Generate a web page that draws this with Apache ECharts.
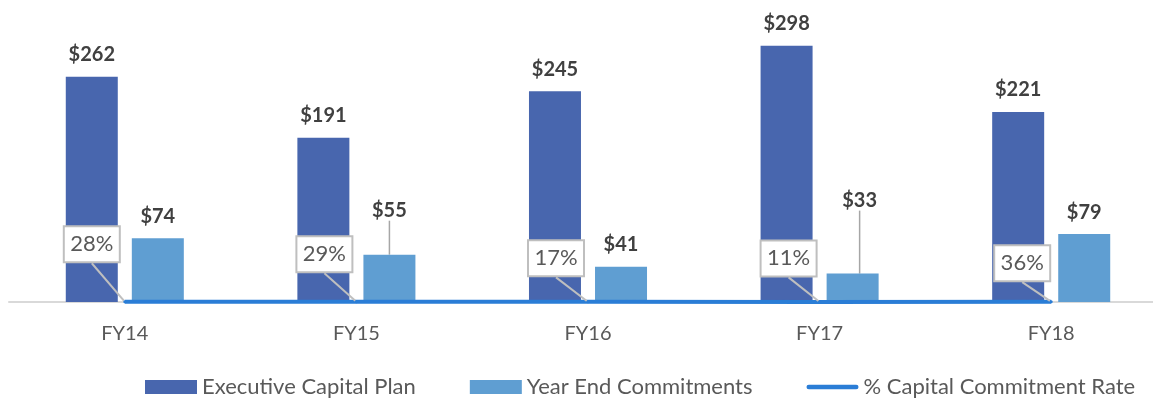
<!DOCTYPE html>
<html>
<head>
<meta charset="utf-8">
<script src="https://cdn.jsdelivr.net/npm/echarts@6/dist/echarts.min.js"></script>
<style>
  html, body { margin: 0; padding: 0; background: #fff; }
  #chart { width: 1153px; height: 400px; }
</style>
</head>
<body>
<div id="chart"></div>
<script>
// capital plan vs commitments
const categories = ['FY14', 'FY15', 'FY16', 'FY17', 'FY18'];
const capitalPlan = [262, 191, 245, 298, 221];
const yearEndCommitments = [74, 55, 41, 33, 79];
const commitmentRate = [0.28, 0.29, 0.17, 0.11, 0.36];

// label nudges (px) so the callouts sit like the original
const rateLabelShift = [[-33, -34], [-32, -24], [-32, -20], [-31, -20], [-29, -15]];
const commitLabelShift = [[0, 0], [0, -22], [0, 0], [7, -51], [0, 0]];

const chartDom = document.getElementById('chart'),
    capitalChart = echarts.init(chartDom);

const fontFamily = 'Lato, sans-serif';

// only moved labels get a leader line
const commitData = yearEndCommitments.map(function (v, i) {
    const moved = commitLabelShift[i][0] !== 0 || commitLabelShift[i][1] !== 0;
    return { value: v, labelLine: { show: moved } };
});

let option = {
    animation: false,
    textStyle: { fontFamily: fontFamily },
    legend: {
        left: 140,
        top: 371,
        itemWidth: 52,
        itemHeight: 14,
        itemGap: 54,
        textStyle: { fontSize: 22, color: '#595959', fontFamily: fontFamily },
        data: [
            { name: 'Executive Capital Plan', icon: 'rect' },
            { name: 'Year End Commitments', icon: 'rect' },
            {
                name: '% Capital Commitment Rate',
                icon: 'path://M2.5,0 L54.5,0 A2.5,2.5 0 0 1 54.5,5 L2.5,5 A2.5,2.5 0 0 1 2.5,0 Z'
            }
        ]
    },
    grid: {
        left: 9,
        width: 1158,
        top: 1,
        bottom: 98,
        containLabel: false,
        outerBoundsMode: 'none'
    },
    xAxis: {
        type: 'category',
        data: categories,
        axisTick: { show: false },
        axisLine: { lineStyle: { color: '#d9d9d9', width: 2 } },
        axisLabel: { color: '#595959', fontSize: 20, margin: 22, fontFamily: fontFamily }
    },
    yAxis: {
        type: 'value',
        min: 0,
        max: 350,
        show: false,
        splitLine: { show: false }
    },
    series: [
        {
            name: 'Executive Capital Plan',
            type: 'bar',
            barWidth: 52,
            barGap: '27%',
            itemStyle: { color: '#4866ae' },
            label: {
                show: true,
                position: 'top',
                distance: 12,
                formatter: '${c}',
                fontSize: 20,
                fontWeight: 'bold',
                color: '#404040',
                fontFamily: fontFamily
            },
            data: capitalPlan
        },
        {
            name: 'Year End Commitments',
            type: 'bar',
            barWidth: 52,
            itemStyle: { color: '#5f9ed2' },
            label: {
                show: true,
                position: 'top',
                distance: 12,
                formatter: '${c}',
                fontSize: 20,
                fontWeight: 'bold',
                color: '#404040',
                fontFamily: fontFamily
            },
            labelLine: {
                lineStyle: { color: '#a6a6a6', width: 1.5 }
            },
            labelLayout: function (params) {
                const s = commitLabelShift[params.dataIndex];
                return { dx: s[0], dy: s[1] };
            },
            data: commitData
        },
        {
            name: '% Capital Commitment Rate',
            type: 'line',
            symbol: 'circle',
            symbolSize: 3,
            z: 5,
            itemStyle: { color: '#2a7dd6' },
            lineStyle: { color: '#2a7dd6', width: 4 },
            label: {
                show: true,
                position: 'top',
                distance: 5,
                formatter: function (p) {
                    return Math.round(p.value * 100) + '%';
                },
                fontSize: 22,
                color: '#595959',
                fontFamily: fontFamily,
                backgroundColor: '#fff',
                borderColor: '#bfbfbf',
                borderWidth: 2,
                width: 54,
                height: 34,
                lineHeight: 34,
                align: 'center',
                padding: 0
            },
            labelLine: {
                show: true,
                lineStyle: { color: '#bfbfbf', width: 2 }
            },
            labelLayout: function (params) {
                const s = rateLabelShift[params.dataIndex];
                return { dx: s[0], dy: s[1] };
            },
            data: commitmentRate
        }
    ]
};

option && capitalChart.setOption(option);
</script>
</body>
</html>
